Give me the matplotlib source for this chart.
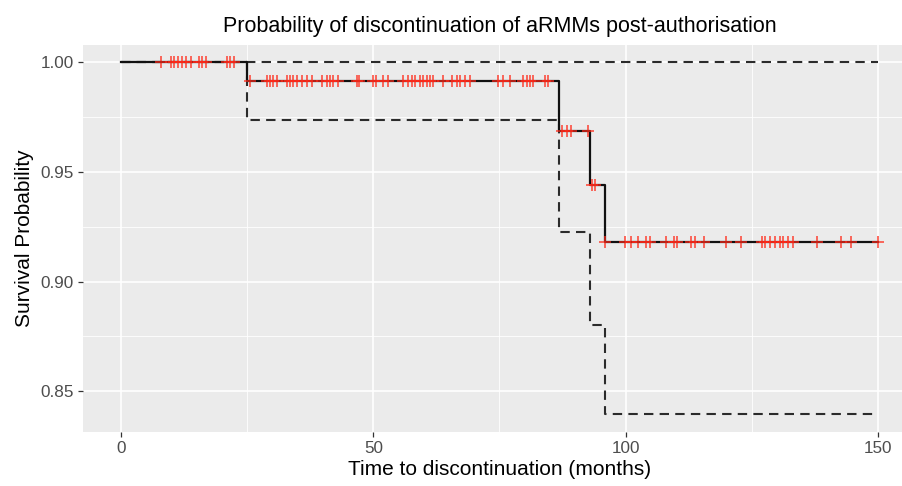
import numpy as np
import matplotlib.pyplot as plt

# Kaplan-Meier estimate (step function) and 95% CI
event_times = [0, 25.0, 86.7, 92.9, 95.8]
surv = [1.0, 0.9913, 0.9685, 0.9438, 0.9178]
lower = [1.0, 0.9735, 0.9228, 0.8800, 0.8397]
upper = [1.0, 1.0, 1.0, 1.0, 1.0]
t_end = 150

# censored observations (months)
censored = [7.9, 10.0, 10.6, 11.3, 12.1, 12.9, 13.8, 15.4, 16.1, 16.9, 21.0, 21.7, 22.5,
            25.5, 28.9, 29.5, 30.1, 30.9, 32.9, 33.5, 34.1, 34.9, 35.8, 36.8, 37.8,
            39.8, 40.8, 41.4, 42.0, 43.0, 46.7, 47.2, 49.9, 50.6, 51.9, 52.9, 55.8,
            56.8, 57.6, 58.2, 59.2, 59.8, 60.6, 61.2, 61.8, 63.8, 65.5, 66.5, 67.1,
            68.1, 69.1, 74.7, 75.6, 77.0, 79.6, 80.4, 81.0, 81.6, 84.0, 84.6,
            87.3, 88.3, 89.2, 92.5, 93.3, 93.9,
            95.9, 99.8, 101.1, 102.4, 104.1, 104.8, 107.9, 109.6, 110.2, 113.0, 113.8,
            115.6, 119.9, 122.9, 126.9, 127.5, 128.5, 129.5, 130.5, 131.2, 132.2,
            133.2, 137.8, 142.7, 144.7, 150.0]

xticks = [0, 50, 100, 150]
yticks = [0.85, 0.90, 0.95, 1.00]
ytick_labels = ["0.85", "0.90", "0.95", "1.00"]

plt.rcParams['font.family'] = ['Liberation Sans', 'DejaVu Sans']

fig = plt.figure(figsize=(9.03, 4.86), dpi=100)
ax = fig.add_axes([83 / 903, 1 - 432 / 486, (916 - 83) / 903, (432 - 44.5) / 486])
ax.set_facecolor('#EBEBEB')

tt = event_times + [t_end]
ax.step(tt, upper + [upper[-1]], where='post', color='#2b2b2b', lw=1.5,
        ls=(0, (4.5, 3)), zorder=3)
ax.step(tt, lower + [lower[-1]], where='post', color='#2b2b2b', lw=1.5,
        ls=(0, (4.5, 3)), zorder=3)
ax.step(tt, surv + [surv[-1]], where='post', color='#111111', lw=1.6, zorder=4)

idx = np.searchsorted(event_times, censored, side='right') - 1
cy = np.array(surv)[idx]
ax.plot(censored, cy, ls='none', marker='+', ms=9, mew=1.3, color='#FF2A1A',
        alpha=0.75, zorder=5)

ax.set_xlim(-7.5, 157.5)
ax.set_ylim(0.83145, 1.008)
ax.set_xticks(xticks)
ax.set_yticks(yticks)
ax.set_yticklabels(ytick_labels)
ax.set_xticks([25, 75, 125], minor=True)
ax.set_yticks([0.875, 0.925, 0.975], minor=True)
ax.grid(which='major', color='white', lw=1.2)
ax.grid(which='minor', color='white', lw=0.6)
ax.set_axisbelow(True)
for s in ax.spines.values():
    s.set_visible(False)
ax.tick_params(which='major', length=3.5, width=0.9, color='#333333',
               labelcolor='#4D4D4D', labelsize=12.3, pad=3)
ax.tick_params(which='minor', length=0)

ax.set_xlabel('Time to discontinuation (months)', fontsize=15, labelpad=3)
ax.set_ylabel('Survival Probability', fontsize=15, labelpad=5)
ax.set_title('Probability of discontinuation of aRMMs post-authorisation',
             fontsize=15.5, pad=9)

fig.savefig('out.png', dpi=100)
